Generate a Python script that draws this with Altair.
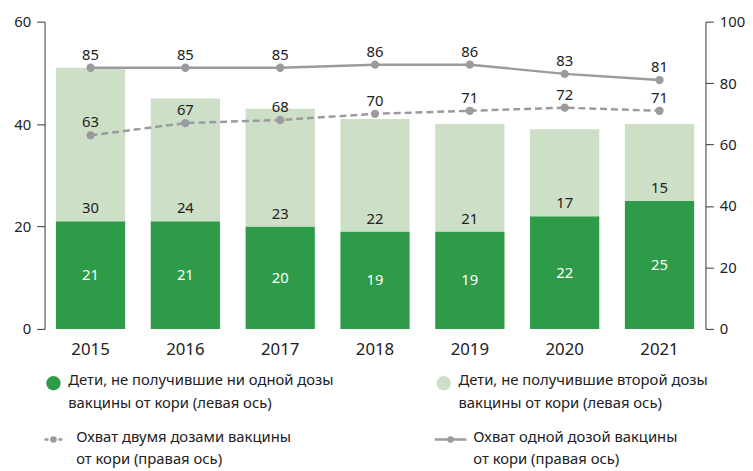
import altair as alt
import pandas as pd

years = ["2015", "2016", "2017", "2018", "2019", "2020", "2021"]
no_dose = [21, 21, 20, 19, 19, 22, 25]          # left axis, millions
no_second = [30, 24, 23, 22, 21, 17, 15]        # left axis, millions
one_dose = [85, 85, 85, 86, 86, 83, 81]         # right axis, %
two_dose = [63, 67, 68, 70, 71, 72, 71]         # right axis, %

ser_dark = "Дети, не получившие ни одной дозы вакцины от кори (левая ось)"
ser_light = "Дети, не получившие второй дозы вакцины от кори (левая ось)"

legend_labels = [
    "Дети, не получившие ни одной дозы\nвакцины от кори (левая ось)",
    "Дети, не получившие второй дозы\nвакцины от кори (левая ось)",
    "Охват двумя дозами вакцины\nот кори (правая ось)",
    "Охват одной дозой вакцины\nот кори (правая ось)",
]

DARK = "#2e9b48"
LIGHT = "#cddfc6"
GREY = "#9b9b9f"
TXT = "#222222"
FONT = "Noto Sans"

bars_df = pd.DataFrame(
    [{"year": y, "series": ser_dark, "value": v, "order": 0} for y, v in zip(years, no_dose)]
    + [{"year": y, "series": ser_light, "value": v, "order": 1} for y, v in zip(years, no_second)]
)
wide = pd.DataFrame({"year": years, "dark": no_dose, "light": no_second,
                     "one": one_dose, "two": two_dose})

x_enc = alt.X("year:N", title=None,
              scale=alt.Scale(paddingInner=0.27, paddingOuter=0.12),
              axis=alt.Axis(labelAngle=0, labelFontSize=17, labelColor=TXT, labelFont=FONT,
                            ticks=False, domain=False, labelPadding=13))

left_axis = alt.Axis(values=[0, 20, 40, 60], tickSize=8, labelPadding=6, labelFontSize=15,
                     labelColor=TXT, labelFont=FONT, domainColor="#333", tickColor="#333",
                     grid=False, title=None)
right_axis = alt.Axis(orient="right", values=[0, 20, 40, 60, 80, 100], tickSize=8,
                      labelPadding=6, labelFontSize=15, labelColor=TXT, labelFont=FONT,
                      domainColor="#333", tickColor="#333", grid=False, title=None)

yl = alt.Scale(domain=[0, 60], nice=False)
yr = alt.Scale(domain=[0, 100], nice=False)

bars = alt.Chart(bars_df).mark_bar().encode(
    x=x_enc,
    y=alt.Y("value:Q", scale=yl, axis=left_axis, stack="zero"),
    color=alt.Color("series:N", scale=alt.Scale(domain=[ser_dark, ser_light], range=[DARK, LIGHT]),
                    legend=None),
    order=alt.Order("order:Q"),
)

base = alt.Chart(wide).encode(x=x_enc)

dark_txt = base.transform_calculate(mid="datum.dark / 2").mark_text(
    color="white", fontSize=15, font=FONT
).encode(y=alt.Y("mid:Q", scale=yl, axis=left_axis), text="dark:Q")

light_txt = base.mark_text(color=TXT, fontSize=15, font=FONT, dy=-13).encode(
    y=alt.Y("dark:Q", scale=yl, axis=left_axis), text="light:Q")

left = alt.layer(bars, dark_txt, light_txt)

one_line = base.mark_line(color=GREY, strokeWidth=2.5).encode(
    y=alt.Y("one:Q", scale=yr, axis=right_axis))
one_pts = base.mark_point(color=GREY, filled=True, opacity=1, size=70).encode(
    y=alt.Y("one:Q", scale=yr, axis=right_axis))
one_txt = base.mark_text(color=TXT, fontSize=15, font=FONT, dy=-13).encode(
    y=alt.Y("one:Q", scale=yr, axis=right_axis), text="one:Q")

two_line = base.mark_line(color=GREY, strokeWidth=2.5, strokeDash=[7, 4]).encode(
    y=alt.Y("two:Q", scale=yr, axis=right_axis))
two_pts = base.mark_point(color=GREY, filled=True, opacity=1, size=70).encode(
    y=alt.Y("two:Q", scale=yr, axis=right_axis))
two_txt = base.mark_text(color=TXT, fontSize=15, font=FONT, dy=-13).encode(
    y=alt.Y("two:Q", scale=yr, axis=right_axis), text="two:Q")

right = alt.layer(one_line, one_pts, one_txt, two_line, two_pts, two_txt)

main = alt.layer(left, right).resolve_scale(y="independent").properties(width=669, height=311)

# custom legend
leg_df = pd.DataFrame({
    "col": [0, 1, 0, 1],
    "row": [0, 0, 1, 1],
    "label": legend_labels,
    "kind": ["dark", "light", "dash", "solid"],
})
lx = alt.X("col:Q", scale=alt.Scale(domain=[0, 1], range=[9, 404]), axis=None)
ly = alt.Y("row:Q", scale=alt.Scale(domain=[0, 1], range=[14, 71]), axis=None)
lbase = alt.Chart(leg_df).encode(x=lx, y=ly)

leg_circles = lbase.transform_filter("datum.row == 0").mark_point(
    filled=True, opacity=1, size=210, shape="circle").encode(
    color=alt.Color("kind:N", scale=alt.Scale(domain=["dark", "light"], range=[DARK, LIGHT]),
                    legend=None))
leg_dash = lbase.transform_filter("datum.kind == 'dash'").mark_point(
    shape="M-1,0H1", size=324, stroke=GREY, strokeWidth=2.5, strokeDash=[4, 3], filled=False,
    opacity=1)
leg_solid = lbase.transform_filter("datum.kind == 'solid'").mark_point(
    shape="M-1,0H1", size=1024, stroke=GREY, strokeWidth=2.5, filled=False, opacity=1, xOffset=7)
leg_dot_dash = lbase.transform_filter("datum.kind == 'dash'").mark_point(
    filled=True, opacity=1, size=45, color=GREY)
leg_dot_solid = lbase.transform_filter("datum.kind == 'solid'").mark_point(
    filled=True, opacity=1, size=45, color=GREY, xOffset=7)
leg_txt0 = lbase.transform_filter("datum.row == 0").mark_text(
    align="left", baseline="top", dx=15, dy=-10, fontSize=15, font=FONT, color=TXT,
    lineBreak="\n", lineHeight=23).encode(text="label:N")
leg_txt1 = lbase.transform_filter("datum.kind == 'dash'").mark_text(
    align="left", baseline="top", dx=23, dy=-10, fontSize=15, font=FONT, color=TXT,
    lineBreak="\n", lineHeight=23).encode(text="label:N")
leg_txt2 = lbase.transform_filter("datum.kind == 'solid'").mark_text(
    align="left", baseline="top", dx=30, dy=-10, fontSize=15, font=FONT, color=TXT,
    lineBreak="\n", lineHeight=23).encode(text="label:N")

legend = alt.layer(leg_circles, leg_dash, leg_solid, leg_dot_dash, leg_dot_solid,
                   leg_txt0, leg_txt1, leg_txt2).properties(width=669, height=100)

chart = alt.vconcat(main, legend, spacing=12).properties(
    padding={"left": 5, "top": 4, "right": 0, "bottom": 0}
).configure_view(stroke=None)

chart.save("out.html", embed_options={"renderer": "svg", "actions": False})
